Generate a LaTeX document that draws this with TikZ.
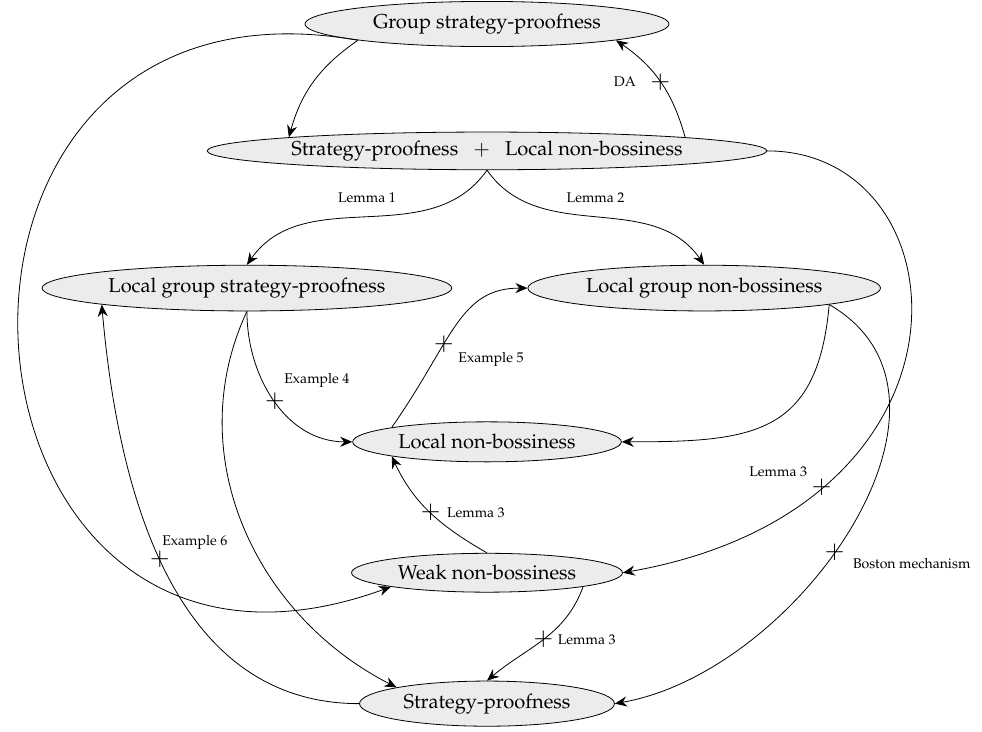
\documentclass[tikz,border=0pt]{standalone}
\usepackage[T1]{fontenc}
\usepackage{mathpazo}
\usepackage{tikz}
\usetikzlibrary{shapes,arrows.meta,positioning}
\tikzset{
prop/.style = {draw, ellipse, fill=gray!15, inner sep=0pt},
lbl/.style = {font=\scriptsize, inner sep=1pt},
cross/.style = {inner sep=0pt, font=\large}
}

\begin{document}
\begin{tikzpicture}[>={Stealth[length=6pt,width=5pt,inset=2pt]}]
	\useasboundingbox (-8.52,0.42) rectangle (8.66,-12.37);
	\node[prop, minimum width=6.37cm, minimum height=0.79cm] (gsp) at (0,0) {Group strategy-proofness};
	\node[prop, below of=gsp, node distance=2.22cm, minimum width=9.79cm, minimum height=0.66cm] (splnb) {Strategy-proofness~~~$+$~~~Local non-bossiness};
	\node[prop, below of=splnb, node distance=2.40cm, xshift=-4.20cm, minimum width=7.17cm, minimum height=0.80cm] (lgsp) {Local group strategy-proofness};
	\node[prop, below of=splnb, node distance=2.40cm, xshift=3.80cm, minimum width=6.17cm, minimum height=0.80cm] (lgnb) {Local group non-bossiness};
	\node[prop, below of=splnb, node distance=5.09cm, minimum width=4.70cm, minimum height=0.70cm] (lnb) {Local non-bossiness};
	\node[prop, below of=lnb, node distance=2.29cm, minimum width=4.74cm, minimum height=0.68cm] (wnb) {Weak non-bossiness};
	\node[prop, below of=wnb, node distance=2.29cm, minimum width=4.46cm, minimum height=0.79cm] (sp) {Strategy-proofness};
	\draw[->] (gsp.south west) to[bend right=20] (splnb.north west);
	\draw[->] (splnb.north east) to[bend right=20] node[cross]{$+$} node[lbl, left=11pt]{DA} (gsp.south east);
	\draw[->] (splnb.south) to[out=-125,in=55] node[lbl, above=6pt]{Lemma 1} (lgsp.north);
	\draw[->] (splnb.south) to[out=-55,in=125] node[lbl, above=6pt]{Lemma 2} (lgnb.north);
	\draw[->] (lgsp.south) to[out=-90,in=180] node[cross]{$+$} node[lbl, above right=5.5pt and 3.5pt]{Example 4} (lnb.west);
	\draw[->] (lnb.north west) to[out=55,in=180,out looseness=1.4,in looseness=0.9] node[cross, pos=0.38]{$+$} node[lbl, pos=0.38, below right=3pt and 6pt]{Example 5} (lgnb.west);
	\draw[->] (lgnb.south east) to[out=-95,in=0,looseness=1.35] (lnb.east);
	\draw[->] (lgnb.south east) to[out=-30,in=10,looseness=1.05] node[cross,pos=0.55]{$+$} node[lbl, pos=0.55, below right=2pt and 8pt]{Boston mechanism} (sp.east);
	\draw[->] (splnb.east) to[out=0,in=10,out looseness=1.14,in looseness=2.17] node[cross,pos=0.765]{$+$} node[lbl, pos=0.765, above left=4pt and 6pt]{Lemma 3} (wnb.east);
	\draw[->] (wnb.north) to[out=150,in=-65] node[cross]{$+$} node[lbl, right=7pt]{Lemma 3} (lnb.south west);
	\draw[->] (wnb.south east) to[out=-110,in=40] node[cross]{$+$} node[lbl, right=6pt]{Lemma 3} (sp.north);
	\draw[->] (gsp.south west) to[out=170,in=-160,looseness=2.3] (wnb.south west);
	\draw[->] (lgsp.south) to[out=-115,in=153] (sp.north west);
	\draw[->] (sp.west) to[out=180,in=-85] node[cross,pos=0.53]{$+$} node[lbl, pos=0.53, above right=4pt and 0pt]{Example 6} (lgsp.south west);
\end{tikzpicture}
\end{document}
